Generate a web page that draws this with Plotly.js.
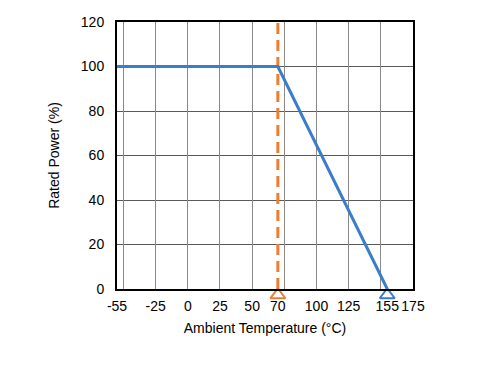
<!DOCTYPE html>
<html><head><meta charset="utf-8">
<script src="https://cdn.plot.ly/plotly-3.0.1.min.js"></script>
<style>html,body{margin:0;padding:0;background:#fff}</style>
</head><body>
<div id="chart" style="width:496px;height:373px"></div>
<script>
const curveTemp = [-55, 70, 155];
const curvePower = [100, 100, 0];
const dashTemp = [70, 70];
const dashPower = [0, 120];
const markerTemp = [70, 155];
const markerPower = [0, 0];
const markerColors = ['#ED7D31', '#3A7DC8'];
const xTickVals = [-55, -25, 0, 25, 50, 70, 100, 125, 155, 175];
const xTickText = ['-55', '-25', '0', '25', '50', '70', '100', '125', '155', '175'];
const xGridVals = [-50, -25, 0, 25, 50, 75, 100, 125, 150, 175];
const yTickVals = [0, 20, 40, 60, 80, 100, 120];

const font = {family: 'Liberation Sans, Arial, sans-serif', size: 14, color: '#000'};
const traces = [
  {x: [-55], y: [-100], xaxis: 'x2', mode: 'markers', marker: {opacity: 0}, hoverinfo: 'none'},
  {x: dashTemp, y: dashPower, mode: 'lines', line: {color: '#ED7D31', width: 3, dash: '11px,6px'}, cliponaxis: false, hoverinfo: 'none'},
  {x: curveTemp, y: curvePower, mode: 'lines', line: {color: '#3A7DC8', width: 3}, hoverinfo: 'none'},
  {x: markerTemp, y: markerPower, mode: 'markers', cliponaxis: false,
   marker: {symbol: 'triangle-up-open', size: 13, angle: 0, standoff: 6, color: markerColors, line: {width: 2, color: markerColors}}, hoverinfo: 'none'}
];
const layout = {
  width: 496, height: 373,
  margin: {l: 117, r: 83, t: 22, b: 84},
  paper_bgcolor: '#fff', plot_bgcolor: '#fff',
  showlegend: false,
  font: font,
  xaxis: {
    range: [-55, 175], tickmode: 'array', tickvals: xTickVals, ticktext: xTickText,
    showgrid: false, zeroline: false, ticks: '', ticklen: 0, ticklabelstandoff: 3,
    showline: true, linecolor: '#000', linewidth: 2, mirror: true,
    tickfont: font, title: {text: 'Ambient Temperature (°C)', font: font, standoff: 10}
  },
  xaxis2: {
    overlaying: 'x', matches: 'x', range: [-55, 175], tickmode: 'array', tickvals: xGridVals,
    showticklabels: false, showgrid: true, gridcolor: '#8a8a8a', gridwidth: 1, zeroline: false
  },
  yaxis: {
    range: [0, 120], tickmode: 'array', tickvals: yTickVals,
    showgrid: true, gridcolor: '#5a5a5a', gridwidth: 1, zeroline: false, ticks: '', ticklabelstandoff: 8,
    showline: true, linecolor: '#000', linewidth: 2, mirror: true,
    tickfont: font, title: {text: 'Rated Power (%)', font: font, standoff: 18}
  }
};
Plotly.newPlot('chart', traces, layout, {staticPlot: true, displayModeBar: false});
</script>
</body></html>
